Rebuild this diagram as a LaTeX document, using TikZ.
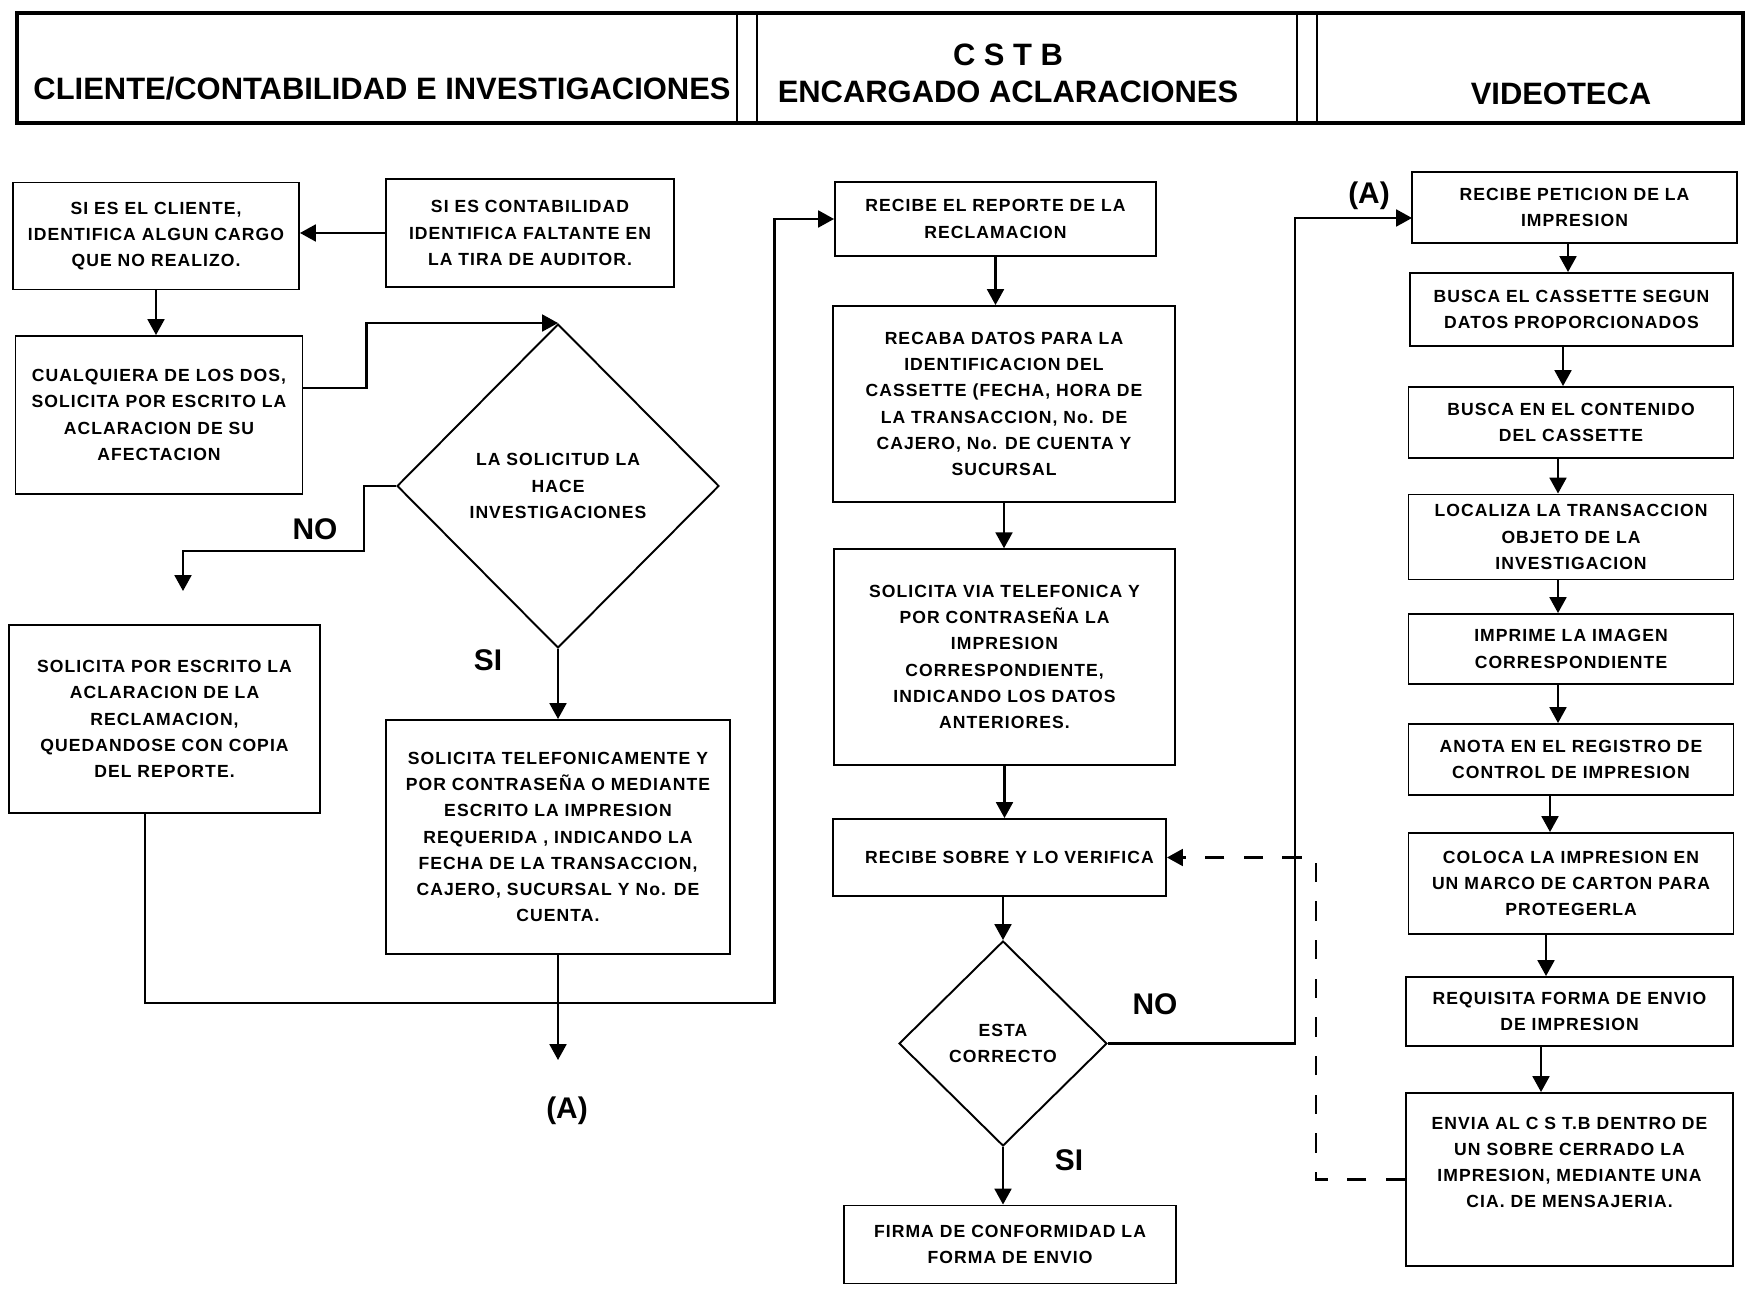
\documentclass[tikz,border=0pt]{standalone}
\usepackage{fontspec}
\setmainfont{Liberation Sans}
\newfontfamily\cajafont{Liberation Sans}[LetterSpace=6.0]
\usepackage{tikz}
\usetikzlibrary{shapes.geometric,arrows.meta,positioning,calc}

\begin{document}
\begin{tikzpicture}[
        caja/.style={draw, line width=0.55pt, align=center, inner sep=1pt,
            font=\cajafont\bfseries\fontsize{5}{7.45}\selectfont},
        rombo/.style={caja, diamond, inner sep=0pt},
        flecha/.style={line width=0.6pt, -{Triangle[length=4.5pt,width=4.8pt]}},
        retorno/.style={flecha, dash pattern=on 5.5pt off 5.5pt},
        etiqueta/.style={font=\bfseries\fontsize{8.5}{10}\selectfont},
        titulo/.style={font=\bfseries\fontsize{8.8}{10}\selectfont}
    ]
        \useasboundingbox (0,0) rectangle (17.5,12.96);

        % Encabezado
        \draw[line width=0.9pt] (0.17,11.73) rectangle (17.43,12.83);
        \draw[line width=0.6pt] (7.37,11.73) -- (7.37,12.83);
        \draw[line width=0.6pt] (7.57,11.73) -- (7.57,12.83);
        \draw[line width=0.6pt] (12.97,11.73) -- (12.97,12.83);
        \draw[line width=0.6pt] (13.17,11.73) -- (13.17,12.83);
        \node[titulo] (carrilCliente) at (3.82,12.07) {CLIENTE/CONTABILIDAD E INVESTIGACIONES};
        \node[titulo] (carrilCstb) at (10.08,12.41) {C S T B};
        \node[titulo] (carrilEncargado) at (10.08,12.04) {ENCARGADO ACLARACIONES};
        \node[titulo] (carrilVideo) at (15.61,12.02) {VIDEOTECA};

        % Cliente / contabilidad e investigaciones
        \node[caja, minimum width=2.86cm, minimum height=1.07cm] (cliente) at (1.56,10.60)
            {SI ES EL CLIENTE,\\IDENTIFICA ALGUN CARGO\\QUE NO REALIZO.};
        \node[caja, minimum width=2.88cm, minimum height=1.08cm] (contab) at (5.30,10.63)
            {SI ES CONTABILIDAD\\IDENTIFICA FALTANTE EN\\LA TIRA DE AUDITOR.};
        \node[caja, minimum width=2.87cm, minimum height=1.58cm] (cualquiera) at (1.59,8.81)
            {CUALQUIERA DE LOS DOS,\\SOLICITA POR ESCRITO LA\\ACLARACION DE SU\\AFECTACION};
        \node[rombo, minimum width=3.22cm, minimum height=3.24cm] (decide) at (5.58,8.10)
            {LA SOLICITUD LA\\HACE\\INVESTIGACIONES};
        \node[caja, minimum width=3.11cm, minimum height=1.875cm] (escrito) at (1.645,5.77)
            {SOLICITA POR ESCRITO LA\\ACLARACION DE LA\\RECLAMACION,\\QUEDANDOSE CON COPIA\\DEL REPORTE.};
        \node[caja, minimum width=3.44cm, minimum height=2.34cm] (telefono) at (5.58,4.59)
            {SOLICITA TELEFONICAMENTE Y\\POR CONTRASEÑA O MEDIANTE\\ESCRITO LA IMPRESION\\REQUERIDA , INDICANDO LA\\FECHA DE LA TRANSACCION,\\CAJERO, SUCURSAL Y No. DE\\CUENTA.};

        \coordinate (finNo) at (1.83,7.05);
        \coordinate (conA) at (5.58,2.36);
        \draw[flecha] (contab.west) -- (contab.west -| cliente.east);
        \draw[flecha] (cliente.south) -- (cliente.south |- cualquiera.north);
        \draw[flecha] ([yshift=2.7mm]cualquiera.east) -- ++(0.63,0) |- (decide.north);
        \draw[flecha] (decide.west) -- ++(-0.32,0) |- (finNo |- 0,7.45) -- (finNo);
        \draw[flecha] (decide.south) -- (telefono.north);
        \draw[flecha] (telefono.south) -- (conA);
        \node[etiqueta] (no1) at (3.15,7.67) {NO};
        \node[etiqueta] (si1) at (4.88,6.36) {SI};
        \node[etiqueta] (letraA1) at (5.67,1.855) {(A)};

        % CSTB encargado aclaraciones
        \node[caja, minimum width=3.21cm, minimum height=0.74cm] (recibe) at (9.955,10.77)
            {RECIBE EL REPORTE DE LA\\RECLAMACION};
        \node[caja, minimum width=3.42cm, minimum height=1.96cm] (recaba) at (10.04,8.92)
            {RECABA DATOS PARA LA\\IDENTIFICACION DEL\\CASSETTE (FECHA, HORA DE\\LA TRANSACCION, No. DE\\CAJERO, No. DE CUENTA Y\\SUCURSAL};
        \node[caja, minimum width=3.41cm, minimum height=2.155cm] (solicita) at (10.045,6.39)
            {SOLICITA VIA TELEFONICA Y\\POR CONTRASEÑA LA\\IMPRESION\\CORRESPONDIENTE,\\INDICANDO LOS DATOS\\ANTERIORES.};
        \node[caja, minimum width=3.33cm, minimum height=0.77cm] (verifica) at (9.995,4.385)
            {\hspace{2mm}RECIBE SOBRE Y LO VERIFICA};
        \node[rombo, minimum width=2.08cm, minimum height=2.05cm] (correcto) at (10.03,2.525)
            {ESTA\\CORRECTO};
        \node[caja, minimum width=3.32cm, minimum height=0.78cm] (firma) at (10.10,0.515)
            {FIRMA DE CONFORMIDAD LA\\FORMA DE ENVIO};

        \draw[flecha] (1.45,0 |- escrito.south) -- (1.45,2.93) -- (7.745,2.93) |- (recibe.west);
        \draw[flecha] (recibe.south) -- (recibe.south |- recaba.north);
        \draw[flecha] (recaba.south) -- (recaba.south |- solicita.north);
        \draw[flecha] (solicita.south) -- (solicita.south |- verifica.north);
        \draw[flecha] (correcto.north |- verifica.south) -- (correcto.north);
        \draw[flecha] (correcto.south) -- (correcto.south |- firma.north);
        \draw[flecha] (correcto.east) -- (12.95,0 |- correcto.east) |- (14.12,10.78);
        \node[etiqueta] (no2) at (11.55,2.915) {NO};
        \node[etiqueta] (si2) at (10.69,1.36) {SI};
        \node[etiqueta] (letraA2) at (13.69,11.00) {(A)};

        % Videoteca
        \node[caja, minimum width=3.25cm, minimum height=0.71cm] (peticion) at (15.745,10.885)
            {RECIBE PETICION DE LA\\IMPRESION};
        \node[caja, minimum width=3.23cm, minimum height=0.73cm] (busca) at (15.715,9.865)
            {BUSCA EL CASSETTE SEGUN\\DATOS PROPORCIONADOS};
        \node[caja, minimum width=3.25cm, minimum height=0.71cm] (contenido) at (15.71,8.735)
            {BUSCA EN EL CONTENIDO\\DEL CASSETTE};
        \node[caja, minimum width=3.25cm, minimum height=0.85cm] (localiza) at (15.71,7.59)
            {LOCALIZA LA TRANSACCION\\OBJETO DE LA\\INVESTIGACION};
        \node[caja, minimum width=3.25cm, minimum height=0.70cm] (imprime) at (15.71,6.47)
            {IMPRIME LA IMAGEN\\CORRESPONDIENTE};
        \node[caja, minimum width=3.25cm, minimum height=0.71cm] (anota) at (15.71,5.365)
            {ANOTA EN EL REGISTRO DE\\CONTROL DE IMPRESION};
        \node[caja, minimum width=3.25cm, minimum height=1.01cm] (coloca) at (15.71,4.125)
            {COLOCA LA IMPRESION EN\\UN MARCO DE CARTON PARA\\PROTEGERLA};
        \node[caja, minimum width=3.27cm, minimum height=0.69cm] (requisita) at (15.695,2.845)
            {REQUISITA FORMA DE ENVIO\\DE IMPRESION};
        \node[caja, minimum width=3.27cm, minimum height=1.73cm] (envia) at (15.695,1.165)
            {ENVIA AL C S T.B DENTRO DE\\UN SOBRE CERRADO LA\\IMPRESION, MEDIANTE UNA\\CIA. DE MENSAJERIA.\\[0.8mm]};

        \draw[flecha] (15.68,0 |- peticion.south) -- (15.68,0 |- busca.north);
        \draw[flecha] (15.63,0 |- busca.south) -- (15.63,0 |- contenido.north);
        \draw[flecha] (15.58,0 |- contenido.south) -- (15.58,0 |- localiza.north);
        \draw[flecha] (15.58,0 |- localiza.south) -- (15.58,0 |- imprime.north);
        \draw[flecha] (15.58,0 |- imprime.south) -- (15.58,0 |- anota.north);
        \draw[flecha] (15.50,0 |- anota.south) -- (15.50,0 |- coloca.north);
        \draw[flecha] (15.46,0 |- coloca.south) -- (15.46,0 |- requisita.north);
        \draw[flecha] (15.41,0 |- requisita.south) -- (15.41,0 |- envia.north);

        % Regreso del sobre
        \draw[retorno] (envia.west) -- ++(-0.89,0) |- (verifica.east);
    \end{tikzpicture}
\end{document}
